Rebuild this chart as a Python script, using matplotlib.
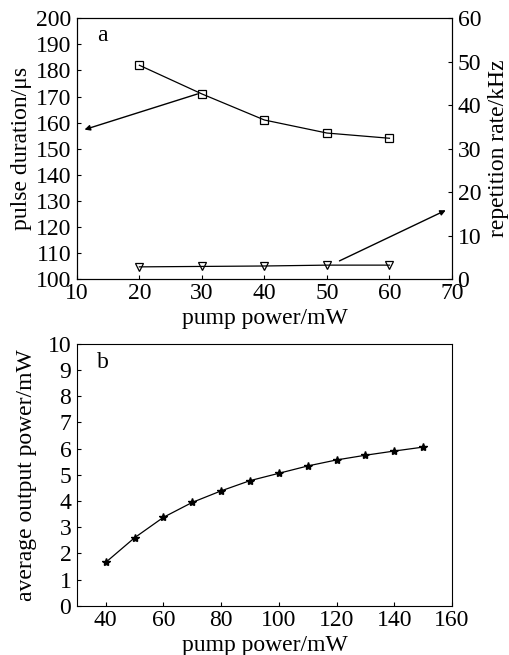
import numpy as np
import matplotlib
matplotlib.use("Agg")
import matplotlib.pyplot as plt

plt.rcParams['font.family'] = ['Liberation Serif', 'DejaVu Serif']

# panel a data
pump_a = [20, 30, 40, 50, 60]
pulse_duration = [182, 171, 161, 156, 154]
rep_rate = [2.8, 2.9, 3.0, 3.2, 3.2]

# panel b data
pump_b = [40, 50, 60, 70, 80, 90, 100, 110, 120, 130, 140, 150]
avg_power = [1.66, 2.6, 3.38, 3.95, 4.39, 4.78, 5.06, 5.34, 5.57, 5.75, 5.91, 6.06]

fig = plt.figure(figsize=(5.09, 6.55), dpi=100)

fs = 17

# panel a
ax1 = fig.add_axes([0.151, 0.574, 0.737, 0.398])
ax1.plot(pump_a, pulse_duration, color='black', lw=0.9, marker='s',
         markersize=6, markerfacecolor='none', markeredgewidth=0.9)
ax1.set_xlim(10, 70)
ax1.set_ylim(100, 200)
ax1.set_xticks(np.arange(10, 71, 10))
ax1.set_yticks(np.arange(100, 201, 10))
ax1.tick_params(direction='in', labelsize=fs, length=3)
ax1.tick_params(axis='x', pad=3)
ax1.tick_params(axis='y', pad=4)
ax1.set_xlabel('pump power/mW', fontsize=fs, labelpad=3)
ax1.set_ylabel('pulse duration/\u03bcs', fontsize=fs, labelpad=3)
ax1.text(0.053, 0.935, 'a', transform=ax1.transAxes, fontsize=fs,
         ha='left', va='center')

ax2 = ax1.twinx()
ax2.plot(pump_a, rep_rate, color='black', lw=0.9, marker='v',
         markersize=6, markerfacecolor='none', markeredgewidth=0.9)
ax2.set_ylim(0, 60)
ax2.set_yticks(np.arange(0, 61, 10))
ax2.tick_params(direction='in', labelsize=fs, length=3, pad=4)
ax2.set_ylabel('repetition rate/kHz', fontsize=fs, labelpad=5)

# arrows pointing to the axes
ax1.annotate('', xy=(10.8, 157), xytext=(29.7, 171.3),
             arrowprops=dict(arrowstyle='-|>', color='black', lw=1.0,
                             mutation_scale=8))
ax2.annotate('', xy=(69.4, 16.1), xytext=(51.6, 3.9),
             arrowprops=dict(arrowstyle='-|>', color='black', lw=1.0,
                             mutation_scale=8))

# panel b
ax3 = fig.add_axes([0.151, 0.075, 0.737, 0.40])
ax3.plot(pump_b, avg_power, color='black', lw=0.9, marker='*',
         markersize=6)
ax3.set_xlim(30, 160)
ax3.set_ylim(0, 10)
ax3.set_xticks(np.arange(40, 161, 20))
ax3.set_yticks(np.arange(0, 11, 1))
ax3.tick_params(direction='in', labelsize=fs, length=3)
ax3.tick_params(axis='x', pad=3)
ax3.tick_params(axis='y', pad=4)
ax3.set_xlabel('pump power/mW', fontsize=fs, labelpad=3)
ax3.set_ylabel('average output power/mW', fontsize=fs, labelpad=8)
ax3.text(0.053, 0.93, 'b', transform=ax3.transAxes, fontsize=fs,
         ha='left', va='center')

fig.savefig('out.png', dpi=100)
